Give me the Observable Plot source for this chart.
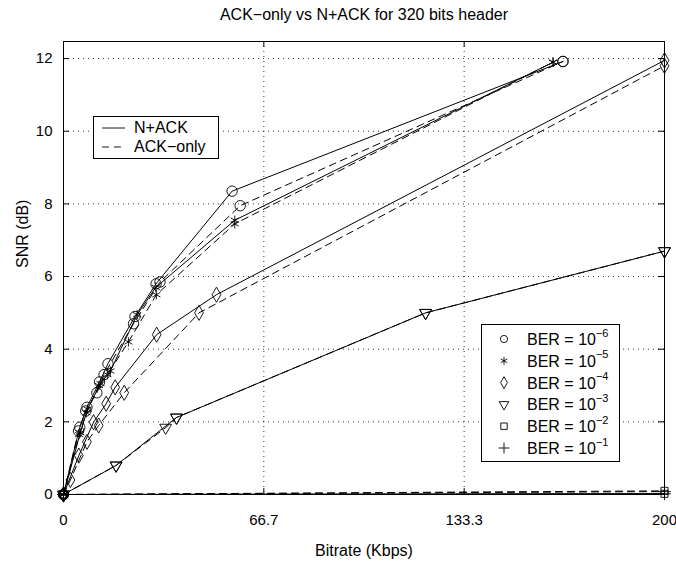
<!DOCTYPE html>
<html>
<head>
<meta charset="utf-8">
<script src="https://cdn.jsdelivr.net/npm/d3@7"></script>
<script src="https://cdn.jsdelivr.net/npm/@observablehq/plot@0.6"></script>
<style>
  body { margin: 0; background: #fff; }
  #wrap { position: relative; width: 676px; height: 563px; font-family: "Liberation Sans", Arial, Helvetica, sans-serif; color: #000; }
  .lg { position: absolute; background: #fff; border: 1px solid #000; box-sizing: border-box; }
  .lt { position: absolute; font-size: 16px; line-height: 16px; white-space: nowrap; }
  .lt sup { font-size: 11px; line-height: 0; position: relative; top: -2px; }
</style>
</head>
<body>
<div id="wrap"></div>
<script>
// ---------- data ----------
const berLabels = ["1e-6", "1e-5", "1e-4", "1e-3", "1e-2", "1e-1"];
const berExps = ["−6", "−5", "−4", "−3", "−2", "−1"];
const schemes = ["N+ACK", "ACK-only"];

const rate_e6_nack = [0, 5.4, 7.8, 12.0, 14.8, 23.8, 30.8, 56.1, 166.2];
const snr_e6_nack  = [0, 1.85, 2.4, 3.1, 3.6, 4.9, 5.8, 8.35, 11.92];
const rate_e6_ack  = [0, 5.0, 7.4, 11.1, 13.5, 23.3, 32.1, 58.8, 166.2];
const snr_e6_ack   = [0, 1.75, 2.3, 2.8, 3.3, 4.7, 5.85, 7.95, 11.92];

const rate_e5_nack = [0, 5.6, 8.0, 12.3, 15.6, 24.5, 30.7, 57.0, 162.9];
const snr_e5_nack  = [0, 1.7, 2.35, 3.05, 3.4, 4.95, 5.7, 7.55, 11.9];
const rate_e5_ack  = [0, 5.2, 7.6, 11.8, 14.6, 21.6, 30.9, 57.0, 162.9];
const snr_e5_ack   = [0, 1.65, 2.25, 3.0, 3.3, 4.2, 5.5, 7.45, 11.9];

const rate_e4_nack = [0, 5.1, 10.0, 14.2, 17.2, 31.0, 50.9, 200];
const snr_e4_nack  = [0, 1.07, 1.99, 2.5, 2.95, 4.4, 5.5, 11.95];
const rate_e4_ack  = [0, 2.3, 7.8, 11.7, 20.2, 45.1, 200];
const snr_e4_ack   = [0, 0.4, 1.45, 1.9, 2.8, 5.0, 11.8];

const rate_e3_nack = [0, 17.5, 37.6, 120.5, 200];
const snr_e3_nack  = [0, 0.8, 2.12, 5.0, 6.7];
const rate_e3_ack  = [0, 17.5, 34.0, 37.6, 120.5, 200];
const snr_e3_ack   = [0, 0.8, 1.84, 2.12, 5.0, 6.7];

const rate_e2_nack = [0, 200];
const snr_e2_nack  = [0, 0.02];
const rate_e2_ack  = [0, 200];
const snr_e2_ack   = [0, 0.1];

const rate_e1_nack = [0, 200];
const snr_e1_nack  = [0, 0.02];
const rate_e1_ack  = [0, 200];
const snr_e1_ack   = [0, 0.08];

const xTicks = [0, 200 / 3, 400 / 3, 200];
const xTickLabels = ["0", "66.7", "133.3", "200"];
const yTicks = [0, 2, 4, 6, 8, 10, 12];

// ---------- table ----------
const seriesDefs = [
  ["1e-6", "N+ACK", rate_e6_nack, snr_e6_nack], ["1e-6", "ACK-only", rate_e6_ack, snr_e6_ack],
  ["1e-5", "N+ACK", rate_e5_nack, snr_e5_nack], ["1e-5", "ACK-only", rate_e5_ack, snr_e5_ack],
  ["1e-4", "N+ACK", rate_e4_nack, snr_e4_nack], ["1e-4", "ACK-only", rate_e4_ack, snr_e4_ack],
  ["1e-3", "N+ACK", rate_e3_nack, snr_e3_nack], ["1e-3", "ACK-only", rate_e3_ack, snr_e3_ack],
  ["1e-2", "N+ACK", rate_e2_nack, snr_e2_nack], ["1e-2", "ACK-only", rate_e2_ack, snr_e2_ack],
  ["1e-1", "N+ACK", rate_e1_nack, snr_e1_nack], ["1e-1", "ACK-only", rate_e1_ack, snr_e1_ack]
];
const rows = [];
for (const [ber, scheme, xs, ys] of seriesDefs) {
  xs.forEach((x, i) => rows.push({ber, scheme, key: ber + "|" + scheme, x, y: ys[i]}));
}

const symbolRange = ["circle", "asterisk", "diamond", "triangle", "square", "plus"];
const symbolR = {"1e-6": 5.2, "1e-5": 4.4, "1e-4": 4.6, "1e-3": 4.4, "1e-2": 4.0, "1e-1": 4.2};
const W = 676, H = 563, mT = 41, mB = 69, mL = 63, mR = 12;
const plotH = H - mT - mB, plotW = W - mL - mR;
const tick = 6;
const font = "'Liberation Sans', Arial, Helvetica, sans-serif";

const chart = Plot.plot({
  width: W, height: H,
  marginTop: mT, marginBottom: mB, marginLeft: mL, marginRight: mR,
  style: {fontFamily: font, fontSize: "15px", background: "#fff", color: "#000", overflow: "visible"},
  x: {domain: [0, 200]},
  y: {domain: [0, 12.47]},
  r: {type: "identity"},
  symbol: {domain: berLabels, range: symbolRange},
  marks: [
    // grid
    Plot.ruleY(yTicks, {y: d => d, stroke: "#000", strokeWidth: 0.8, strokeDasharray: "1,4"}),
    Plot.ruleX(xTicks, {x: d => d, stroke: "#000", strokeWidth: 0.8, strokeDasharray: "1,4"}),
    // inward ticks
    Plot.ruleX(xTicks, {x: d => d, insetTop: plotH - tick, stroke: "#000"}),
    Plot.ruleX(xTicks, {x: d => d, insetBottom: plotH - tick, stroke: "#000"}),
    Plot.ruleY(yTicks, {y: d => d, insetRight: plotW - tick, stroke: "#000"}),
    Plot.ruleY(yTicks, {y: d => d, insetLeft: plotW - tick, stroke: "#000"}),
    // lines
    Plot.line(rows.filter(d => d.scheme === "N+ACK"), {x: "x", y: "y", z: "key", stroke: "#000", strokeWidth: 1}),
    Plot.line(rows.filter(d => d.scheme === "ACK-only"), {x: "x", y: "y", z: "key", stroke: "#000", strokeWidth: 1, strokeDasharray: "7,5"}),
    // markers
    Plot.dot(rows, {x: "x", y: "y", symbol: "ber", r: d => symbolR[d.ber], rotate: d => (d.ber === "1e-3" ? 180 : 0), stroke: "#000", fill: "none", strokeWidth: 0.9}),
    Plot.frame({stroke: "#000", strokeWidth: 1}),
    // axes
    Plot.axisX({ticks: xTicks, tickFormat: (d, i) => xTickLabels[i], tickSize: 0, tickPadding: 20, label: null, fontSize: 15}),
    Plot.axisY({ticks: yTicks, tickFormat: d => String(d), tickSize: 0, tickPadding: 11, label: null, fontSize: 15}),
    Plot.text(["Bitrate (Kbps)"], {frameAnchor: "bottom", dy: 56, lineAnchor: "middle", fontSize: 16}),
    Plot.text(["SNR (dB)"], {frameAnchor: "left", dx: -41, rotate: -90, lineAnchor: "middle", fontSize: 16}),
    Plot.text(["ACK−only vs N+ACK for 320 bits header"], {frameAnchor: "top", dy: -27, lineAnchor: "middle", fontSize: 16})
  ]
});

const wrap = document.getElementById("wrap");
wrap.appendChild(chart);

// ---------- legend 1 (line styles) ----------
const lg1 = document.createElement("div");
lg1.className = "lg";
Object.assign(lg1.style, {left: "93px", top: "116px", width: "126px", height: "43px"});
lg1.innerHTML =
  `<svg width="124" height="41" style="position:absolute;left:0;top:0">
     <line x1="8" x2="31" y1="11" y2="11" stroke="#000" stroke-width="0.9"/>
     <line x1="8" x2="31" y1="30" y2="30" stroke="#000" stroke-width="0.9" stroke-dasharray="7,5"/>
   </svg>`;
schemes.forEach((s, i) => {
  const t = document.createElement("div");
  t.className = "lt";
  t.textContent = s.replace("-", "−");
  Object.assign(t.style, {left: "40px", top: (3 + i * 19) + "px"});
  lg1.appendChild(t);
});
wrap.appendChild(lg1);

// ---------- legend 2 (markers) ----------
const lg2 = document.createElement("div");
lg2.className = "lg";
Object.assign(lg2.style, {left: "481px", top: "324px", width: "139px", height: "138px"});
const rowY = i => 14 + i * 21.8;
const svg2 = d3.create("svg").attr("width", 137).attr("height", 136)
  .style("position", "absolute").style("left", "0").style("top", "0");
const symMap = {circle: d3.symbolCircle, asterisk: d3.symbolAsterisk, diamond: d3.symbolDiamond,
                triangle: d3.symbolTriangle, square: d3.symbolSquare, plus: d3.symbolPlus};
berLabels.forEach((b, i) => {
  const name = symbolRange[i];
  const r = 3.6;
  svg2.append("path")
    .attr("d", d3.symbol(symMap[name], r * r * Math.PI)())
    .attr("transform", `translate(22,${rowY(i)}) rotate(${name === "triangle" ? 180 : 0})`)
    .attr("fill", "none").attr("stroke", "#000").attr("stroke-width", 0.9);
  const t = document.createElement("div");
  t.className = "lt";
  t.innerHTML = `BER = 10<sup>${berExps[i]}</sup>`;
  Object.assign(t.style, {left: "45px", top: (rowY(i) - 7) + "px"});
  lg2.appendChild(t);
});
lg2.appendChild(svg2.node());
wrap.appendChild(lg2);
</script>
</body>
</html>
